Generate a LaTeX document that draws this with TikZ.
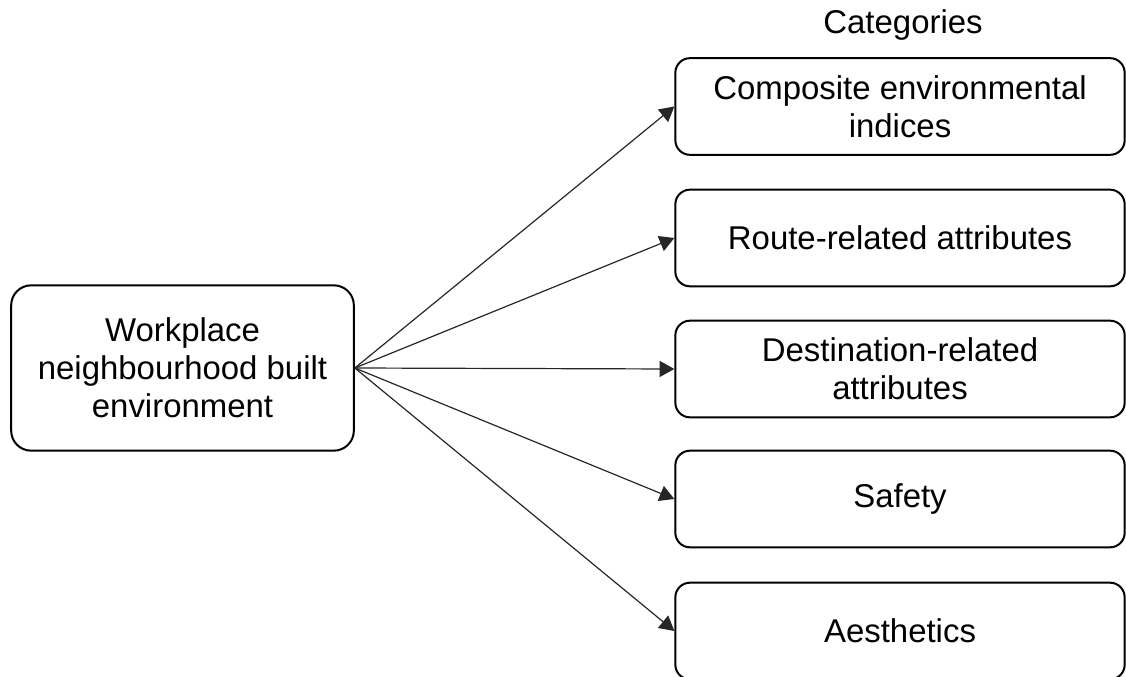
\documentclass[tikz,border=0pt]{standalone}
\usepackage{fontspec}
\setmainfont{Liberation Sans}
\usetikzlibrary{arrows.meta}
\tikzset{
    box/.style={draw, line width=1.5pt, rounded corners=11pt, align=center,
        font=\fontsize{24.7}{28.5}\selectfont, inner sep=0pt},
    catbox/.style={box, minimum width=337pt, minimum height=72.5pt},
}

\begin{document}
\begin{tikzpicture}[x=0.75pt, y=-0.75pt, >={Triangle[length=11pt,width=12pt]}]
\useasboundingbox (0,0) rectangle (1126,677);
\node[box, minimum width=257pt, minimum height=124pt, rounded corners=15pt] (env) at (182.5,368) {Workplace\\neighbourhood built\\environment};
\node[font=\fontsize{24.7}{28.5}\selectfont] (cat) at (903,25) {Categories};
\node[catbox] (comp) at (900,106.5) {Composite environmental\\indices};
\node[catbox] (route) at (900,238) {Route-related attributes};
\node[catbox] (dest) at (900,369) {Destination-related\\attributes};
\node[catbox] (safe) at (900,499) {Safety};
\node[catbox] (aes) at (900,631) {Aesthetics};
\foreach \n in {comp,route,dest,safe,aes}
{
    \draw[->, line width=0.9pt, black!85](env.east)--(\n.west);
}

\end{tikzpicture}
\end{document}
